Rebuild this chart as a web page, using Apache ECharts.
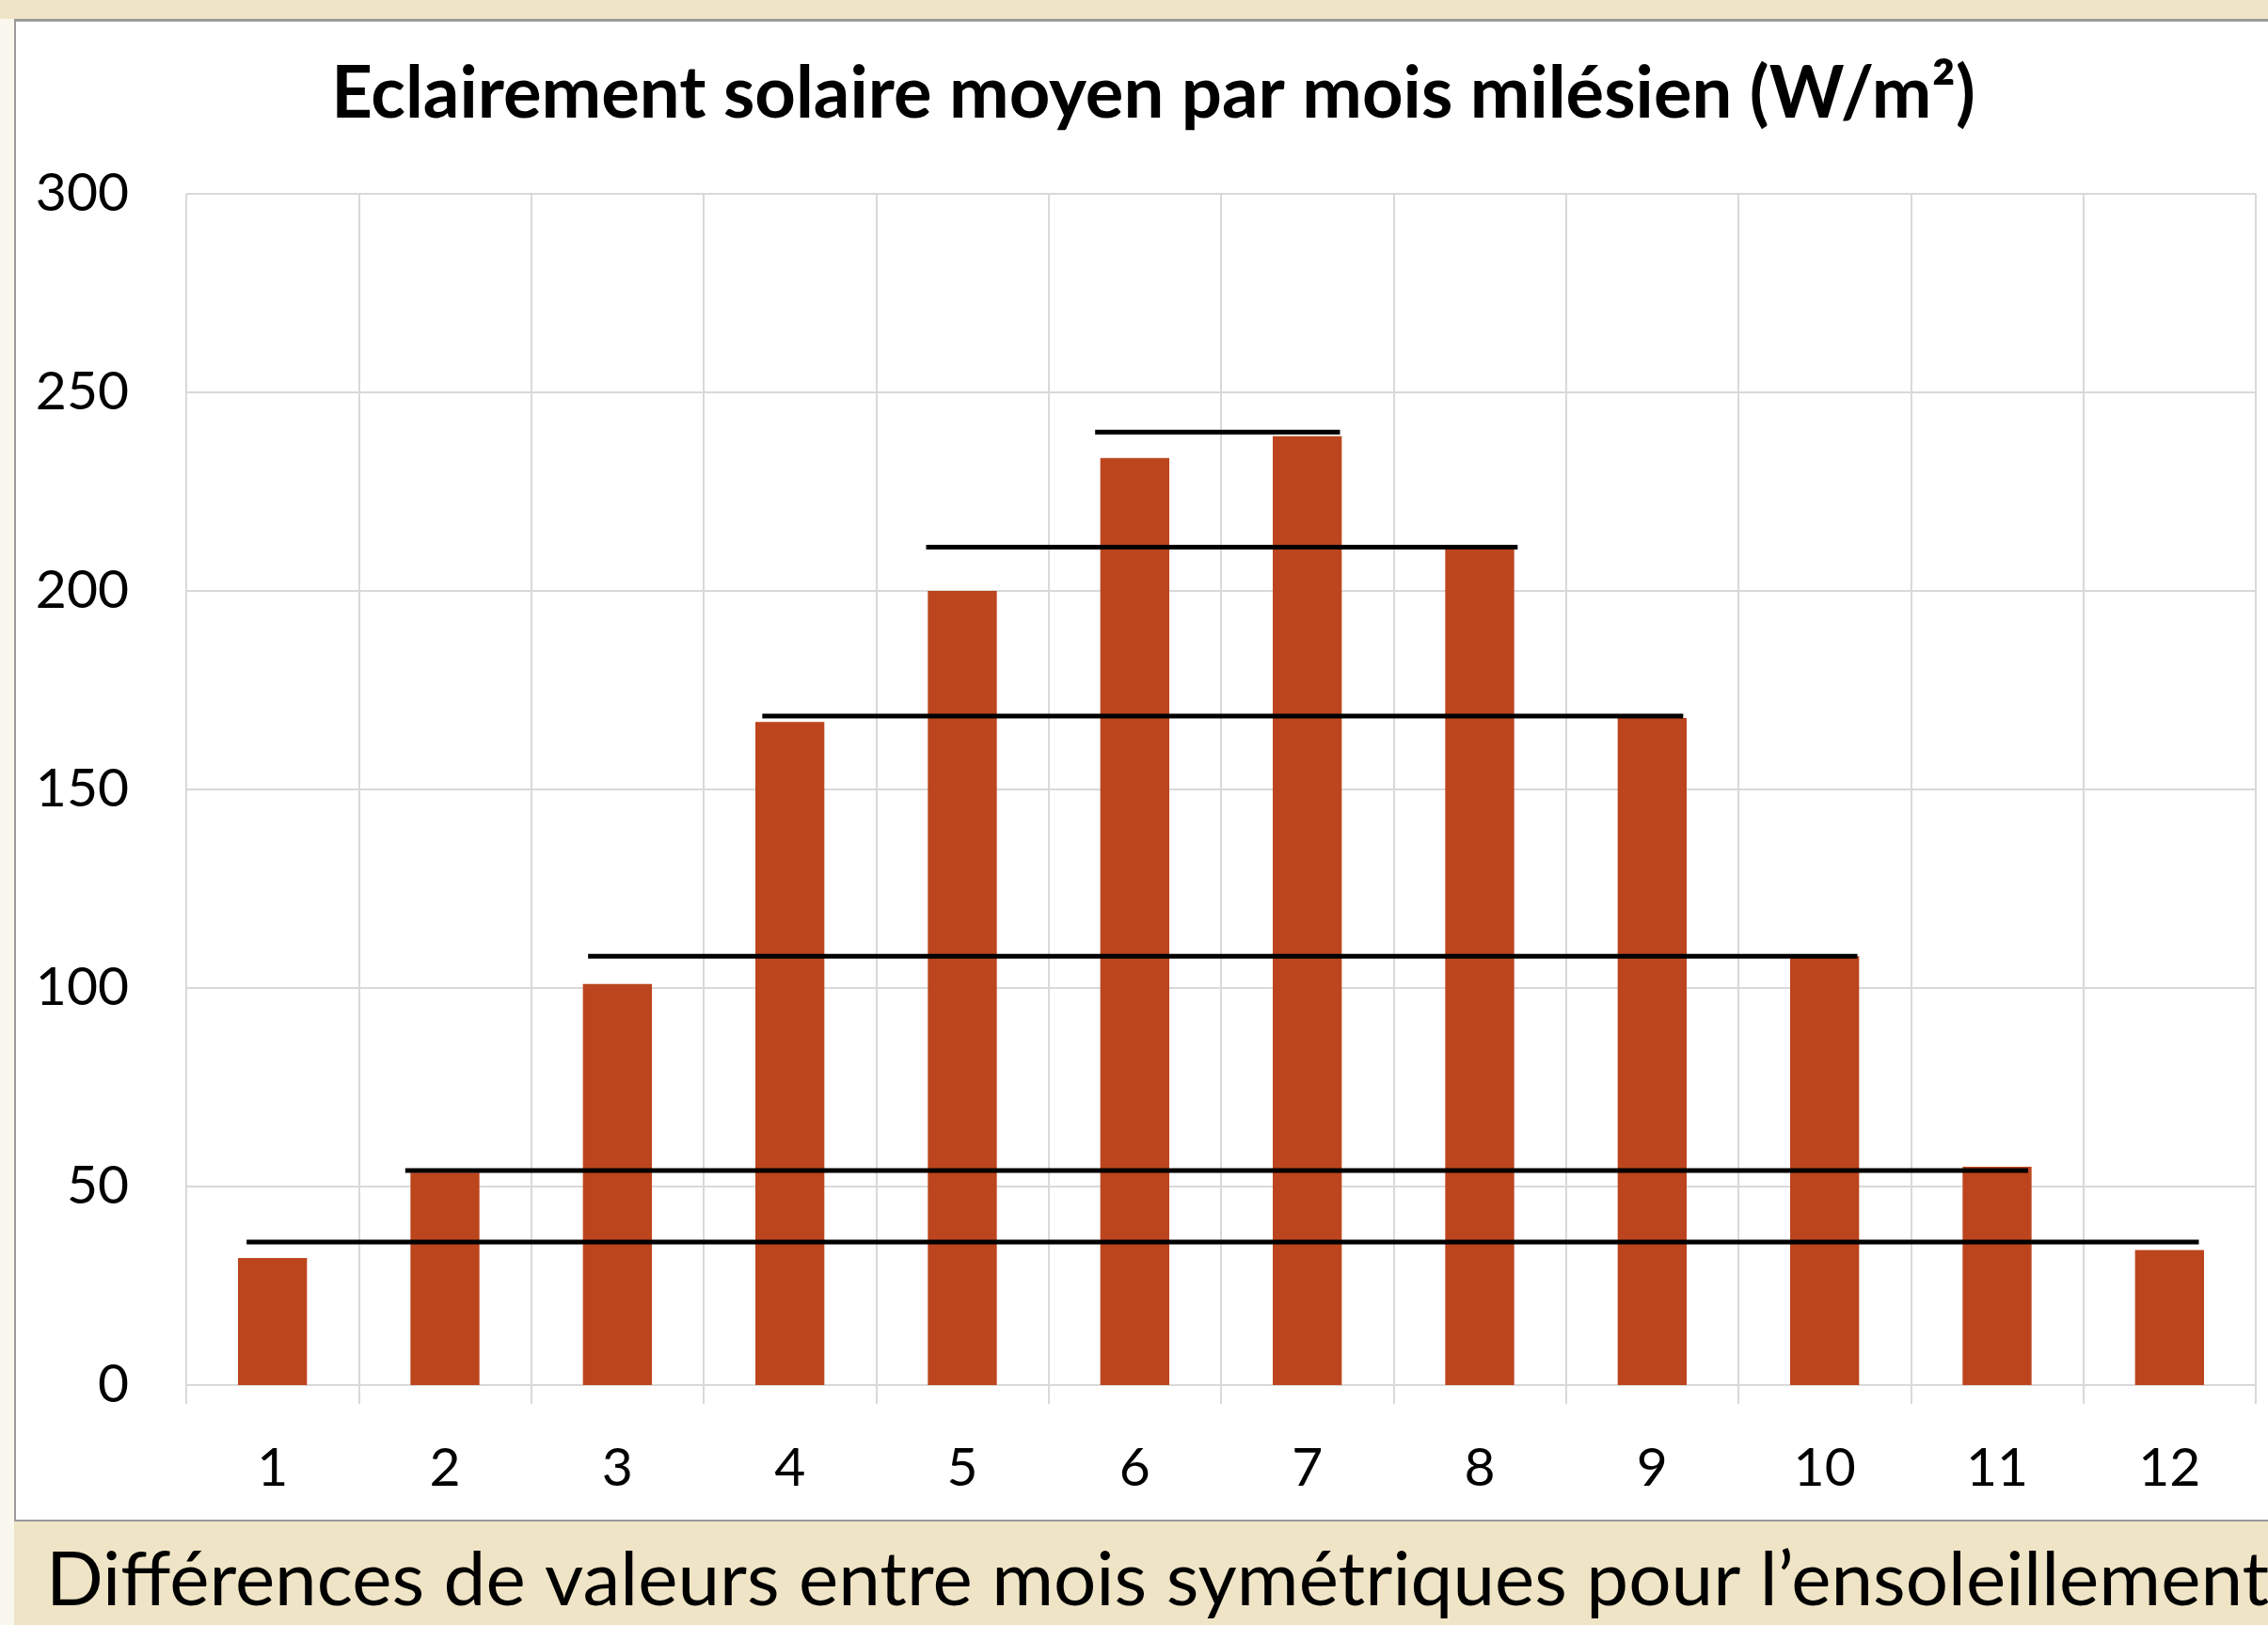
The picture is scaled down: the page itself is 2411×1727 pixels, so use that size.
<!DOCTYPE html>
<html>
<head>
<meta charset="utf-8">
<style>
html,body{margin:0;padding:0;background:#fff;}
#chart{width:2411px;height:1727px;}
</style>
<script src="https://cdn.jsdelivr.net/npm/echarts@6/dist/echarts.min.js"></script>
</head>
<body>
<div id="chart"></div>
<script>
// ---- data ----
const months = ['1','2','3','4','5','6','7','8','9','10','11','12'];
const irradiance = [32, 53.5, 101, 167, 200, 233.5, 239, 211, 168, 108, 55, 34];
// symmetric month pairs and the level of each black comparison line
const pairLevels = [36, 54, 108, 168.5, 211, 240];
const pairStart  = [0.85, 1.77, 2.83, 3.84, 4.79, 5.77];   // in month units
const pairEnd    = [12.17, 11.18, 10.19, 9.18, 8.22, 7.19];
const yTicks = [0, 50, 100, 150, 200, 250, 300];
const titleText = 'Eclairement solaire moyen par mois milésien (W/m²)';
const captionText = 'Différences de valeurs entre mois symétriques pour l\u2019ensoleillement';

const FONT = 'Lato';
const chart = echarts.init(document.getElementById('chart'), null, {renderer:'canvas'});

const lineSeries = pairLevels.map((lv, i) => ({
  type: 'line',
  xAxisIndex: 1,
  yAxisIndex: 0,
  data: [[pairStart[i], lv], [pairEnd[i], lv]],
  symbol: 'none',
  lineStyle: {color: '#000', width: 5},
  silent: true,
  z: 5
}));

chart.setOption({
  backgroundColor: '#ffffff',
  animation: false,
  textStyle: {fontFamily: FONT},
  title: [{
    text: titleText,
    left: 1221,
    top: 57,
    textAlign: 'center',
    textStyle: {fontFamily: FONT, fontWeight: 'bold', fontSize: 76, color: '#000', lineHeight: 76}
  }, {
    text: captionText,
    left: 44,
    top: 1635,
    textStyle: {fontFamily: FONT, fontWeight: 'normal', fontSize: 80, color: '#000', lineHeight: 80}
  }],
  graphic: [
    {type:'rect', shape:{x:0,y:0,width:2411,height:20}, style:{fill:'#EFE4C5'}, z:-10, silent:true},
    {type:'rect', shape:{x:0,y:20,width:15,height:1707}, style:{fill:'#FAF7EF'}, z:-10, silent:true},
    {type:'rect', shape:{x:15,y:20,width:2396,height:3}, style:{fill:'#9A9A9A'}, z:-9, silent:true},
    {type:'rect', shape:{x:15,y:20,width:2,height:1597}, style:{fill:'#9A9A9A'}, z:-9, silent:true},
    {type:'rect', shape:{x:15,y:1615,width:2396,height:2}, style:{fill:'#9A9A9A'}, z:-9, silent:true},
    {type:'rect', shape:{x:15,y:1617,width:2396,height:110}, style:{fill:'#EFE4C5'}, z:-10, silent:true}
  ],
  grid: {left: 198, right: 13, top: 206, bottom: 255, containLabel: false},
  xAxis: [{
    type: 'category',
    data: months,
    boundaryGap: true,
    axisLine: {show: true, lineStyle: {color: '#D9D9D9', width: 2}},
    axisTick: {show: true, length: 20, lineStyle: {color: '#D9D9D9', width: 2}},
    splitLine: {show: true, lineStyle: {color: '#D9D9D9', width: 2}},
    axisLabel: {fontFamily: FONT, fontSize: 57, color: '#000', margin: 60}
  }, {
    type: 'value',
    min: 0.5,
    max: 12.5,
    show: false
  }],
  yAxis: [{
    type: 'value',
    min: yTicks[0],
    max: yTicks[yTicks.length - 1],
    interval: yTicks[1] - yTicks[0],
    axisLine: {show: false},
    axisTick: {show: false},
    splitLine: {show: true, lineStyle: {color: '#D9D9D9', width: 2}},
    axisLabel: {fontFamily: FONT, fontSize: 57, color: '#000', margin: 61}
  }],
  series: [{
    type: 'bar',
    data: irradiance,
    xAxisIndex: 0,
    yAxisIndex: 0,
    barWidth: '40%',
    itemStyle: {color: '#BC451D'},
    z: 3
  }].concat(lineSeries)
});
</script>
</body>
</html>
